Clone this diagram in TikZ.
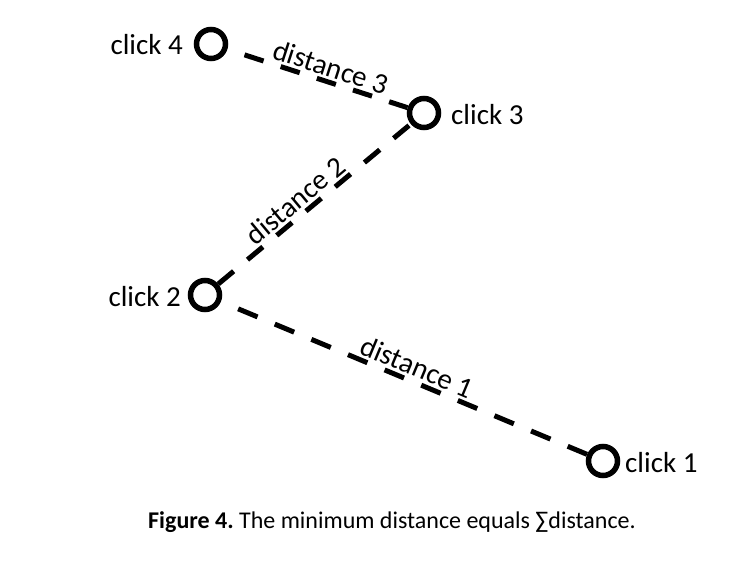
\documentclass[tikz,border=0pt]{standalone}
\usepackage{fontspec}
\setmainfont{Carlito}
\begin{document}
\begin{tikzpicture}[x=1pt,y=-1pt,
  click/.style={circle,draw,line width=5.5pt,minimum size=29pt,inner sep=0pt},
  lbl/.style={font=\fontsize{29}{33}\selectfont,inner sep=0pt},
  dist/.style={line width=5pt,dash pattern=on 20pt off 18pt},
  dlabel/.style={font=\fontsize{29}{33}\selectfont,sloped,inner sep=2.5pt}]
\useasboundingbox (0,0) rectangle (738,569);
\node[click] (c4) at (211,44) {};
\node[click] (c3) at (424,113) {};
\node[click] (c2) at (205,295) {};
\node[click] (c1) at (603,461) {};
\node[lbl,anchor=east] (l4) at (183,45) {click 4};
\node[lbl,anchor=west] (l3) at (451,115) {click 3};
\node[lbl,anchor=east] (l2) at (181,297) {click 2};
\node[lbl,anchor=west] (l1) at (625,463) {click 1};
\draw[dist,dash phase=20pt] (c4) -- node[dlabel,pos=0.55,above] (d3) {distance 3} (c3);
\draw[dist] (c2) -- node[dlabel,pos=0.45,above] (d2) {distance 2} (c3);
\draw[line width=5pt,dash pattern=on 21pt off 18.67pt,dash phase=21pt] (c2) -- node[dlabel,pos=0.52,above] (d1) {distance 1} (c1);
\node[font=\fontsize{24}{28}\selectfont,inner sep=0pt,anchor=base] (cap) at (392,528) {\frenchspacing\textbf{Figure 4.} The minimum distance equals ∑distance.};
\end{tikzpicture}
\end{document}
